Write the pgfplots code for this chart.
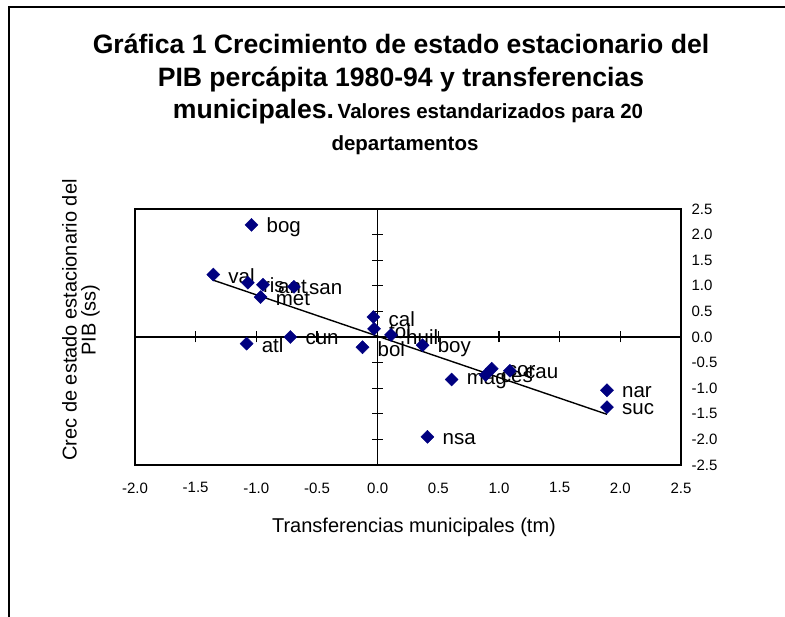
\documentclass[border=0pt]{standalone}
\usepackage{pgfplots}
\pgfplotsset{compat=1.18}
\usepackage{fontspec}
\setmainfont{Liberation Sans}
\definecolor{navy}{RGB}{0,0,128}
\begin{document}
\begin{tikzpicture}[x=1pt,y=1pt]
\path[use as bounding box] (0,0) rectangle (785,-617);
\draw[line width=2.3pt] (9,-617) -- (9,-7) -- (785,-7);
% title
\node[anchor=base, font=\fontsize{26.6}{30}\selectfont\bfseries] at (401,-54) {Gráfica 1 Crecimiento de estado estacionario del};
\node[anchor=base, font=\fontsize{26.6}{30}\selectfont\bfseries] at (401,-87) {PIB percápita 1980-94 y transferencias};
\node[anchor=base] at (408,-119) {{\fontsize{26.6}{30}\selectfont\bfseries municipales.} {\fontsize{20.5}{24}\selectfont\bfseries Valores estandarizados para 20}};
\node[anchor=base, font=\fontsize{20.5}{24}\selectfont\bfseries] at (405,-151) {departamentos};
% axis titles
\node[rotate=90, align=center, font=\fontsize{20}{19}\selectfont] at (81,-320) {Crec de estado estacionario del\\PIB (ss)};
\node[font=\fontsize{20}{24}\selectfont] at (414,-527) {Transferencias municipales (tm)};
% zero axes with crossing ticks
\begin{axis}[
  at={(135pt,-465pt)}, anchor=south west,
  scale only axis, width=546pt, height=256pt,
  xmin=-2, xmax=2.5, ymin=-2.5, ymax=2.5,
  axis lines=middle, axis line style={-, line width=1.3pt, black},
  xtick={-2,-1.5,-1,-0.5,0,0.5,1,1.5,2,2.5},
  ytick={-2.5,-2,-1.5,-1,-0.5,0,0.5,1,1.5,2,2.5},
  xticklabels={}, yticklabels={},
  tick align=center, major tick length=11pt,
  tick style={line width=1.3pt, black},
]
\end{axis}
% box, labels and data
\begin{axis}[
  at={(135pt,-465pt)}, anchor=south west,
  scale only axis, width=546pt, height=256pt,
  xmin=-2, xmax=2.5, ymin=-2.5, ymax=2.5,
  axis line style={line width=1.3pt, black},
  xtick={-2,-1.5,-1,-0.5,0,0.5,1,1.5,2,2.5},
  ytick={-2.5,-2,-1.5,-1,-0.5,0,0.5,1,1.5,2,2.5},
  major tick length=0pt,
  yticklabel pos=right,
  /pgf/number format/fixed,
  /pgf/number format/fixed zerofill,
  /pgf/number format/precision=1,
  /pgf/number format/assume math mode=true,
  xticklabel style={font=\fontsize{15}{18}\selectfont, yshift=-14pt},
  yticklabel style={font=\fontsize{15}{18}\selectfont, anchor=west, xshift=7pt},
  clip=false,
]
\addplot[only marks, mark=square*, mark size=4.6pt,
  mark options={rotate=45, fill=navy, draw=navy},
  nodes near coords, point meta=explicit symbolic,
  every node near coord/.append style={anchor=west, font=\fontsize{20.5}{22}\selectfont, inner sep=0pt, xshift=15pt, yshift=-2pt, text=black}]
table[meta=label] {
x y label
-1.04 2.19 bog
-1.355 1.22 val
-1.07 1.06 ris
-0.945 1.02 ant
-0.965 0.78 met
-0.69 0.98 san
-1.08 -0.13 atl
-0.72 0.00 cun
-0.125 -0.20 bol
-0.035 0.39 cal
-0.03 0.16 tol
0.11 0.04 huil
0.37 -0.16 boy
0.41 -1.95 nsa
0.61 -0.83 mag
0.89 -0.74 ces
0.94 -0.62 cor
1.09 -0.66 cau
1.89 -1.04 nar
1.89 -1.37 suc
};
\addplot[black, line width=1.4pt] coordinates {(-1.355,1.11) (1.89,-1.51)};
\end{axis}
\end{tikzpicture}
\end{document}
